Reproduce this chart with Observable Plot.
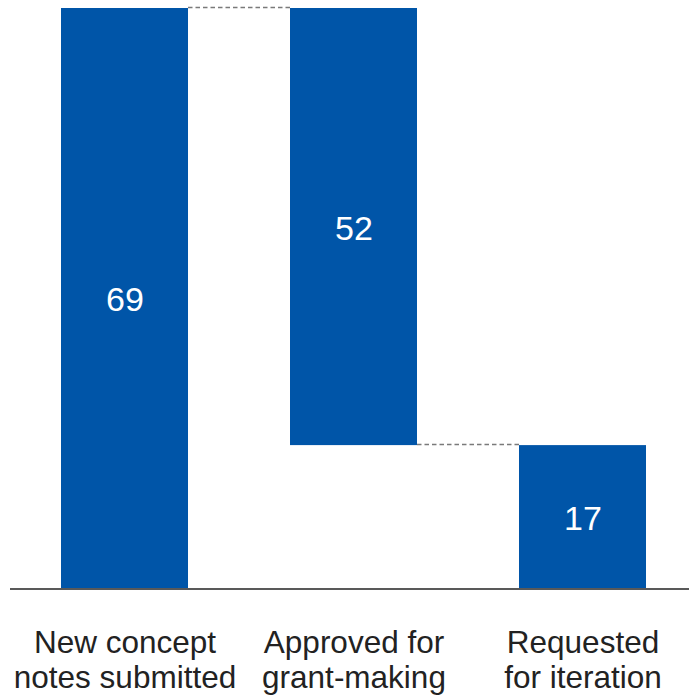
<!DOCTYPE html>
<html>
<head>
<meta charset="utf-8">
<script src="https://cdn.jsdelivr.net/npm/d3@7"></script>
<script src="https://cdn.jsdelivr.net/npm/@observablehq/plot@0.6"></script>
<style>
  html, body { margin: 0; padding: 0; background: #fff; }
  svg { display: block; }
</style>
</head>
<body>
<div id="chart"></div>
<script>
const categories = ["New concept\nnotes submitted", "Approved for\ngrant-making", "Requested\nfor iteration"];
const values = [69, 52, 17];
const kinds = ["total", "decrease", "total"];

// waterfall spans
let running = 0;
const bars = categories.map((c, i) => {
  let lo, hi;
  if (kinds[i] === "total") { lo = 0; hi = values[i]; running = values[i]; }
  else { hi = running; lo = running - values[i]; running = lo; }
  return {cat: c, lo, hi, value: values[i]};
});
const connectors = bars.slice(0, -1).map((b, i) => {
  const next = bars[i + 1];
  const level = kinds[i + 1] === "decrease" ? b.hi : next.hi;
  return {from: b.cat, to: next.cat, level};
});

const blue = "#0055a8";
const chart = Plot.plot({
  width: 689,
  height: 695,
  marginLeft: 10,
  marginRight: 0,
  marginTop: 0,
  marginBottom: 107,
  style: {fontFamily: "Liberation Sans, Arial, sans-serif", background: "#fff"},
  x: {type: "band", domain: categories, range: [61, 646], paddingInner: 0.4454, paddingOuter: 0, round: false, axis: null},
  y: {domain: [0, 69], range: [588, 8], axis: null},
  marks: [
    Plot.ruleY(connectors, {x1: "from", x2: "to", y: "level", dy: -1, insetLeft: 127, insetRight: 127, stroke: "#7a7a7a", strokeWidth: 1.5, strokeDasharray: "4.5,3"}),
    Plot.barY(bars, {x: "cat", y1: "lo", y2: "hi", fill: blue}),
    Plot.ruleY([0], {stroke: "#222", strokeWidth: 1.5, dy: 0.5}),
    Plot.text(bars, {x: "cat", y: d => (d.lo + d.hi) / 2, text: d => String(d.value), fill: "#fff", fontSize: 34, dy: 2}),
    Plot.text(bars, {x: "cat", y: 0, text: "cat", lineAnchor: "top", dy: 39, lineHeight: 1.13, fontSize: 31.5, fill: "#222"})
  ]
});
document.getElementById("chart").appendChild(chart);
</script>
</body>
</html>
